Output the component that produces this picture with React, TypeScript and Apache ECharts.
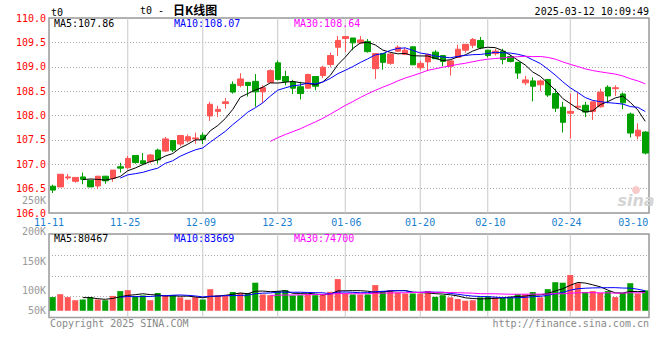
import React, { useEffect, useRef } from "react";
import * as echarts from "echarts";

// ---------- data ----------
const SYMBOL = "t0";
const TITLE_CODE = "t0 -";
const TITLE_CN = "日K线图";
const TIMESTAMP = "2025-03-12 10:09:49";
const COPYRIGHT = "Copyright 2025 SINA.COM";
const SITE = "http://finance.sina.com.cn";

const OPEN = [
  106.55, 106.535, 106.72, 106.65, 106.74, 106.67, 106.555, 106.755, 106.71, 106.95,
  106.93, 107.18, 107.07, 107.055, 107.29, 107.27, 107.485, 107.415, 107.48, 107.52,
  107.595, 107.99, 108.085, 108.245, 108.64, 108.615, 108.68, 108.7, 108.485, 108.68,
  109.08, 108.8, 108.69, 108.59, 108.56, 108.8, 108.82, 109.045, 109.4, 109.58,
  109.59, 109.49, 109.52, 108.96, 109.27, 109.07, 109.32, 109.254, 109.41, 108.98,
  109.1, 109.3, 109.23, 109.01, 109.19, 109.34, 109.44, 109.54, 109.34, 109.27,
  109.32, 109.21, 109.09, 108.67, 108.71, 108.63, 108.74, 108.45, 108.17, 108.045,
  108.17, 108.21, 108.08, 108.18, 108.58, 108.55, 108.44, 108.03, 107.58, 107.66,
];
const CLOSE = [
  106.47, 106.795, 106.74, 106.73, 106.69, 106.535, 106.755, 106.66, 106.88, 106.92,
  107.12, 107.035, 107.01, 107.19, 107.09, 107.52, 107.29, 107.59, 107.565, 107.54,
  107.51, 108.23, 108.125, 108.28, 108.48, 108.75, 108.615, 108.485, 108.57, 108.92,
  108.74, 108.7, 108.56, 108.45, 108.84, 108.6, 108.99, 109.23, 109.54, 109.62,
  109.49, 109.55, 109.31, 109.27, 109.09, 109.26, 109.4, 109.34, 109.04, 109.07,
  109.25, 109.165, 109.11, 109.12, 109.36, 109.46, 109.56, 109.39, 109.23, 109.32,
  109.15, 109.11, 108.87, 108.73, 108.6, 108.71, 108.42, 108.15, 107.86, 108.085,
  108.19, 108.07, 108.28, 108.48, 108.4, 108.57, 108.26, 107.64, 107.7, 107.23,
];
const LOW = [
  106.41, 106.53, 106.68, 106.62, 106.59, 106.53, 106.49, 106.6, 106.64, 106.83,
  106.9, 107.01, 106.98, 107.02, 107.01, 107.25, 107.25, 107.37, 107.445, 107.42,
  107.415, 107.89, 107.97, 108.14, 108.45, 108.58, 108.39, 108.18, 108.26, 108.68,
  108.72, 108.62, 108.44, 108.33, 108.55, 108.52, 108.77, 108.99, 109.22, 109.3,
  109.34, 109.47, 109.29, 108.75, 108.94, 109.04, 109.3, 109.25, 109.04, 108.93,
  108.91, 109.16, 109.01, 108.82, 109.19, 109.29, 109.38, 109.36, 109.19, 109.23,
  109.05, 109.09, 108.75, 108.62, 108.29, 108.5, 108.38, 108.07, 107.65, 107.53,
  108.12, 107.97, 107.91, 108.16, 108.25, 108.4, 108.13, 107.55, 107.51, 107.2,
];
const HIGH = [
  106.58, 106.8, 106.8, 106.73, 106.83, 106.68, 106.76, 106.76, 106.88, 107.03,
  107.17, 107.18, 107.23, 107.21, 107.32, 107.56, 107.49, 107.6, 107.61, 107.65,
  107.65, 108.28, 108.2, 108.36, 108.7, 108.87, 108.68, 108.85, 108.62, 108.95,
  109.13, 108.92, 108.73, 108.69, 108.86, 108.8, 109.02, 109.29, 109.63, 109.63,
  109.59, 109.63, 109.57, 109.27, 109.27, 109.28, 109.44, 109.39, 109.41, 109.12,
  109.27, 109.34, 109.23, 109.12, 109.45, 109.46, 109.59, 109.61, 109.34, 109.37,
  109.37, 109.24, 109.09, 108.81, 108.78, 108.74, 108.74, 108.55, 108.28, 108.45,
  108.47, 108.28, 108.28, 108.55, 108.62, 108.62, 108.47, 108.06, 107.84, 107.68,
];
const VOLUME = [
  57000, 69000, 57000, 44000, 47000, 57000, 47000, 44000, 62000, 82000,
  86000, 61000, 64000, 44000, 74000, 65000, 65000, 56000, 46000, 57000,
  47000, 90000, 65000, 64000, 78000, 74000, 74000, 117000, 68000, 65000,
  82000, 86000, 64000, 65000, 69000, 65000, 69000, 79000, 132000, 72000,
  68000, 68000, 68000, 107000, 82000, 86000, 76000, 72000, 72000, 72000,
  82000, 58000, 65000, 56000, 49000, 42000, 44000, 56000, 61000, 56000,
  54000, 58000, 69000, 69000, 78000, 56000, 90000, 119000, 117000, 149000,
  115000, 78000, 82000, 75000, 82000, 57000, 74000, 115000, 72000, 85000,
];

const DATE_TICK_LABELS = ["11-11", "11-25", "12-09", "12-23", "01-06", "01-20", "02-10", "02-24", "03-10"];
const DATE_TICK_POS = [-0.5, 9.65, 19.75, 29.95, 39.15, 48.98, 58.35, 68.5, 77.4];
const PRICE_MIN = 106;
const PRICE_MAX = 110;
const PRICE_STEP = 0.5;
const VOL_MIN = -28000;
const VOL_MAX = 320000;
const VOL_TICK_LABELS = ["250K", "200K", "150K", "100K", "50K"];
const PRICE_MA_LABELS = ["MA5:107.86", "MA10:108.07", "MA30:108.64"];
const VOL_MA_LABELS = ["MA5:80467", "MA10:83669", "MA30:74700"];
const MA_PERIODS = [5, 10, 30];

// ---------- styles ----------
const MONO = '"DejaVu Sans Mono", "Liberation Mono", monospace';
const UP = "#ff5555";
const DOWN = "#00a000";
const MA_COLORS = ["#000000", "#0000ff", "#ff00ff"];
const GRID_LINE = "#aaaaaa";
const VGRID_LINE = "#c8c8c8";
const BORDER = "#999999";

function movingAverage(values: number[], n: number) {
  return values.map((_, i) => {
    if (i < n - 1) return null;
    let s = 0;
    for (let k = i - n + 1; k <= i; k++) s += values[k];
    return +(s / n).toFixed(4);
  });
}

export default function App() {
  const ref = useRef<HTMLDivElement>(null);

  useEffect(() => {
    if (!ref.current) return;
    const chart = echarts.init(ref.current, undefined, { renderer: "svg" });
    const N = CLOSE.length;
    const cats = CLOSE.map((_, i) => String(i));
    const candles = OPEN.map((o, i) => [o, CLOSE[i], LOW[i], HIGH[i]]);
    const vols = VOLUME.map((v, i) => ({
      value: v,
      itemStyle: { color: CLOSE[i] >= OPEN[i] ? UP : DOWN },
    }));
    const dotted = { color: GRID_LINE, type: [1, 2] as any, width: 1 };
    // candle slots nearest to the reference's vertical grid lines
    const splitIdx = new Set(
      DATE_TICK_POS.slice(1, DATE_TICK_POS.length - 1).map((p) => Math.round(p))
    );
    const hiddenCat = (grid: number) => ({
      type: "category",
      gridIndex: grid,
      data: cats,
      boundaryGap: true,
      position: "bottom",
      axisLine: { show: false },
      axisTick: { show: false },
      axisLabel: { show: false },
      splitLine: { show: false },
    });

    const maLines = (src: number[], xi: number, yi: number) =>
      MA_PERIODS.map((p, k) => ({
        type: "line",
        xAxisIndex: xi,
        yAxisIndex: yi,
        data: movingAverage(src, p),
        symbol: "none",
        silent: true,
        lineStyle: { color: MA_COLORS[k], width: 1 },
        z: 5,
      }));

    // thin full-height bars acting as the vertical grid lines
    const vGridBars = (xi: number, yi: number, top: number) => ({
      type: "bar",
      xAxisIndex: xi,
      yAxisIndex: yi,
      silent: true,
      barWidth: 1,
      z: 1,
      itemStyle: { color: VGRID_LINE },
      data: cats.map((_, i) => (splitIdx.has(i) ? top : "-")),
    });

    const txt = (text: string, x: number, y: number, fill: string, align = "left", font = `10px ${MONO}`) => ({
      type: "text",
      x,
      y,
      silent: true,
      style: { text, fill, font, align, verticalAlign: "middle" },
      z: 10,
    });

    const volLabelY = [200.5, 231.2, 261, 290.3, 310.3];
    const legendX = [54, 174, 294];

    const graphics: any[] = [
      txt(SYMBOL, 51, 12.3, "#000"),
      txt(TITLE_CODE, 140, 10, "#000"),
      txt(TITLE_CN, 173, 9.5, "#000", "left", `bold 12px "Noto Sans CJK SC", sans-serif`),
      txt(TIMESTAMP, 649, 11.2, "#000", "right"),
      ...PRICE_MA_LABELS.map((t, k) => txt(t, legendX[k], 23.7, MA_COLORS[k])),
      ...VOL_MA_LABELS.map((t, k) => txt(t, legendX[k], 238.3, MA_COLORS[k])),
      ...VOL_TICK_LABELS.map((t, k) => txt(t, 46, volLabelY[k], "#999", "right")),
      txt(COPYRIGHT, 50, 323.7, "#888"),
      txt(SITE, 649, 323.7, "#888", "right"),
      {
        type: "circle",
        silent: true,
        shape: { cx: 636, cy: 190, r: 4 },
        style: { fill: "#f9caca" },
        z: 1,
      },
      txt("sina", 636, 200, "#d4d4d4", "center", `italic bold 16px "DejaVu Sans", sans-serif`),
    ];

    chart.setOption({
      animation: false,
      backgroundColor: "#ffffff",
      grid: [
        { left: 49, top: 18, width: 600, height: 195, show: true, borderColor: BORDER, borderWidth: 1.5 },
        { left: 49, top: 234, width: 600, height: 83.5, show: true, borderColor: BORDER, borderWidth: 1.5 },
      ],
      xAxis: [
        hiddenCat(0),
        hiddenCat(1),
        {
          type: "value", gridIndex: 0, min: -0.5, max: N - 0.5, position: "bottom",
          axisLine: { show: false }, axisTick: { show: false }, splitLine: { show: false },
          axisLabel: {
            show: true,
            customValues: DATE_TICK_POS,
            showMinLabel: true,
            showMaxLabel: true,
            hideOverlap: false,
            color: "#1a7fd0",
            fontFamily: MONO,
            fontSize: 10,
            margin: 4,
            formatter: (v: number) => {
              const k = DATE_TICK_POS.findIndex((p) => Math.abs(p - v) < 1e-6);
              return k >= 0 ? DATE_TICK_LABELS[k] : "";
            },
          },
        },
        hiddenCat(1),
      ],
      yAxis: [
        {
          type: "value", gridIndex: 0, min: PRICE_MIN, max: PRICE_MAX, interval: PRICE_STEP,
          axisLine: { show: false }, axisTick: { show: false },
          axisLabel: { color: "#ff0000", fontFamily: MONO, fontSize: 10, margin: 3, formatter: (v: number) => v.toFixed(1) },
          splitLine: { show: true, lineStyle: dotted },
        },
        {
          type: "value", gridIndex: 1, min: VOL_MIN, max: VOL_MAX,
          axisLine: { show: false }, axisTick: { show: false }, axisLabel: { show: false }, splitLine: { show: false },
        },
        {
          type: "value", gridIndex: 1, min: 0, max: 4, interval: 1,
          axisLine: { show: false }, axisTick: { show: false }, axisLabel: { show: false },
          splitLine: { show: true, lineStyle: dotted },
        },
      ],
      series: [
        vGridBars(0, 0, PRICE_MAX),
        vGridBars(3, 2, 4),
        {
          type: "candlestick",
          xAxisIndex: 0,
          yAxisIndex: 0,
          data: candles,
          barWidth: 6,
          silent: true,
          itemStyle: { color: UP, color0: DOWN, borderColor: UP, borderColor0: DOWN, borderWidth: 1 },
          z: 3,
        },
        ...maLines(CLOSE, 0, 0),
        {
          type: "bar",
          xAxisIndex: 1,
          yAxisIndex: 1,
          data: vols,
          barWidth: 6,
          silent: true,
          z: 3,
        },
        ...maLines(VOLUME, 1, 1),
      ],
      graphic: graphics,
    });

    return () => chart.dispose();
  }, []);

  return (
    <div
      ref={ref}
      style={{ position: "fixed", left: 0, top: 0, width: 660, height: 360, background: "#fff" }}
    />
  );
}
